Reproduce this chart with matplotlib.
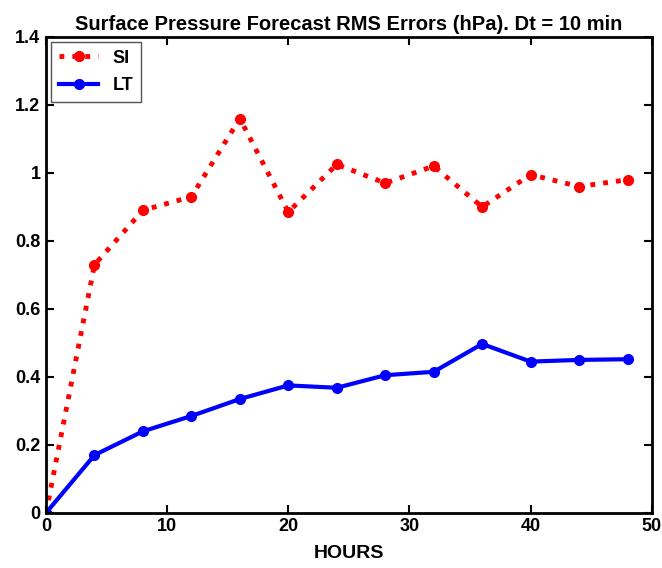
import matplotlib
matplotlib.use('Agg')
import matplotlib.pyplot as plt

hours = [0, 4, 8, 12, 16, 20, 24, 28, 32, 36, 40, 44, 48]
si_err = [0.0, 0.73, 0.89, 0.93, 1.16, 0.885, 1.025, 0.97, 1.02, 0.90, 0.995, 0.96, 0.98]
lt_err = [0.0, 0.17, 0.24, 0.285, 0.335, 0.375, 0.368, 0.405, 0.415, 0.497, 0.445, 0.45, 0.452]

plt.rcParams['font.family'] = ['Liberation Sans', 'DejaVu Sans']
plt.rcParams['font.weight'] = 'bold'

fig = plt.figure(figsize=(6.62, 5.68), dpi=100)
ax = fig.add_axes([0.0695, 0.097, 0.915, 0.838])

ax.plot(hours, si_err, ':', color='#ff0000', lw=3.5, marker='o', ms=7, label='SI')
ax.plot(hours, lt_err, '-', color='#0000ff', lw=3, marker='o', ms=7, label='LT')

ax.set_xlim(0, 50)
ax.set_ylim(0, 1.4)
ax.set_xticks([0, 10, 20, 30, 40, 50])
ax.set_yticks([0, 0.2, 0.4, 0.6, 0.8, 1.0, 1.2, 1.4])
ax.set_yticklabels(['0', '0.2', '0.4', '0.6', '0.8', '1', '1.2', '1.4'])
ax.tick_params(direction='in', top=True, right=True, length=6, width=1.5,
               labelsize=13, pad=4)
for s in ax.spines.values():
    s.set_linewidth(2)

ax.set_xlabel('HOURS', fontsize=14, fontweight='bold', labelpad=7)
ax.set_title('Surface Pressure Forecast RMS Errors (hPa). Dt = 10 min',
             fontsize=14.5, fontweight='bold', pad=5)

leg = ax.legend(loc='upper left', fontsize=13, fancybox=False, framealpha=1,
                edgecolor='#555555', borderaxespad=0.3, handlelength=2.2,
                labelspacing=0.6)
leg.get_frame().set_linewidth(1)

fig.savefig('out.png', dpi=100)
